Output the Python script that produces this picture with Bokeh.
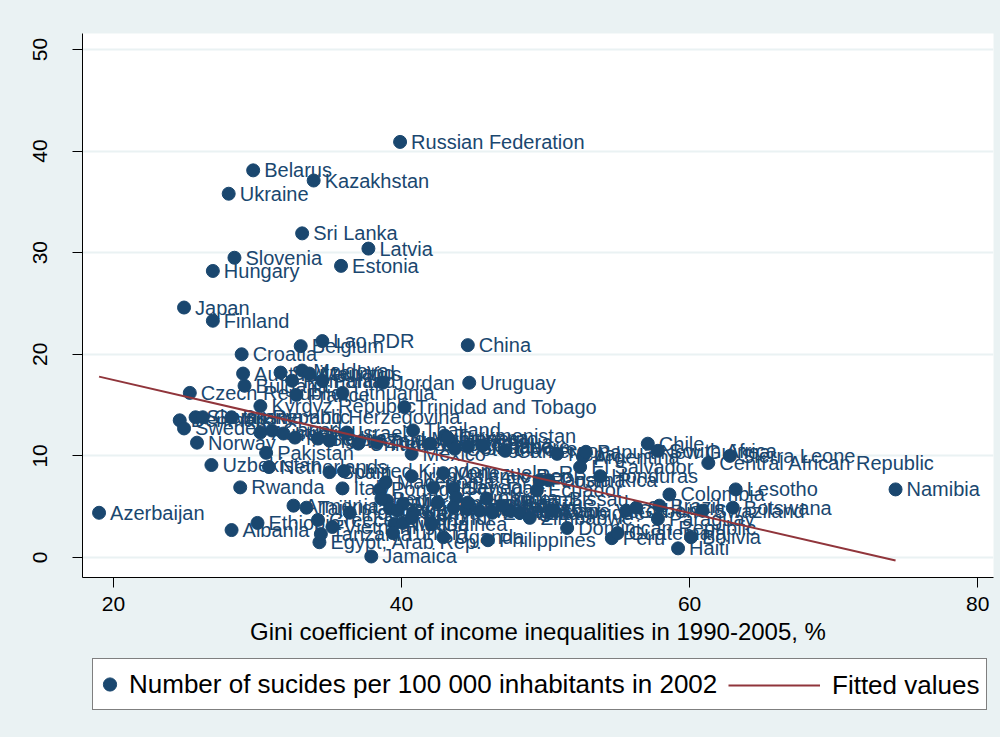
from bokeh.plotting import figure
from bokeh.layouts import column
from bokeh.models import ColumnDataSource, Range1d, Legend, LegendItem, FixedTicker
from bokeh.core.properties import value
from bokeh.embed import file_html
from bokeh.resources import INLINE

countries = [
    "Russian Federation", "Belarus", "Kazakhstan", "Ukraine", "Sri Lanka", "Latvia",
    "Slovenia", "Estonia", "Hungary", "Japan", "Finland", "Lao PDR", "Belgium", "China",
    "Croatia", "Austria", "Switzerland", "Moldova", "Mauritius", "Romania", "Poland",
    "Jordan", "Uruguay", "Bulgaria", "Czech Republic", "Lithuania", "France",
    "Kyrgyz Republic", "Trinidad and Tobago", "Denmark", "Sweden", "Slovak Republic",
    "Germany", "Bosnia and Herzegovina", "Norway", "Uzbekistan", "Pakistan", "Netherlands",
    "Rwanda", "Azerbaijan", "Ethiopia", "Albania", "Tajikistan", "Armenia",
    "Egypt, Arab Rep.", "Jamaica", "Tanzania", "Philippines", "Dominican Republic", "Peru",
    "Guatemala", "Bolivia", "Haiti", "Paraguay", "Colombia", "Lesotho", "Botswana",
    "Swaziland", "Brazil", "Chile", "South Africa", "Sierra Leone",
    "Central African Republic", "Namibia", "Argentina", "Papua New Guinea", "El Salvador",
    "Honduras", "Costa Rica", "Turkmenistan", "Nicaragua", "Cote d'Ivoire", "Singapore",
    "Nepal", "Cameroon", "Australia", "Canada", "Ireland", "Mongolia",
    "Serbia and Montenegro", "New Zealand", "Israel", "United States", "Turkey", "Thailand",
    "Mexico", "Georgia", "Guyana", "Ghana", "Spain", "United Kingdom", "Iran, Islamic Rep.",
    "Italy", "Portugal", "Macedonia, FYR", "Greece", "Vietnam", "Indonesia", "India",
    "Bangladesh", "Morocco", "Kenya", "Nigeria", "Mali", "Guinea", "Tunisia",
    "Venezuela, RB", "Malaysia", "Senegal", "Cambodia", "Yemen, Rep.", "Burkina Faso",
    "Mauritania", "Madagascar", "Zambia", "Niger", "Mozambique", "Uganda", "Benin", "Togo",
    "Burundi", "Gambia, The", "Guinea-Bissau", "Malawi", "Zimbabwe", "Ecuador", "Panama",
    "Cape Verde", "Gabon", "St. Lucia",
]

gini = [
    39.9, 29.7, 33.9, 28.0, 33.1, 37.7,
    28.4, 35.8, 26.9, 24.9, 26.9, 34.5, 33.0, 44.6,
    28.9, 29.0, 31.6, 33.1, 33.6, 32.4, 34.5,
    38.7, 44.7, 29.1, 25.3, 35.9, 32.7,
    30.2, 40.2, 24.6, 24.9, 25.7,
    26.2, 28.2, 25.8, 26.8, 30.6, 30.8,
    28.8, 19.0, 30.0, 28.2, 33.4, 32.5,
    34.3, 37.9, 34.4, 46.0, 51.5, 54.6,
    55.0, 60.1, 59.2, 57.8, 58.6, 63.2, 63.0,
    60.9, 57.9, 57.1, 57.8, 62.8,
    61.3, 74.3, 52.6, 52.8, 52.4,
    53.8, 50.2, 43.0, 43.4, 43.7, 44.6,
    50.8, 47.2, 30.2, 31.0, 31.8, 32.6,
    34.2, 35.0, 36.2, 37.0, 38.3, 40.8,
    40.7, 42.0, 43.2, 45.6, 35.0, 36.0, 40.7,
    35.9, 38.5, 38.9, 34.2, 35.2, 36.4, 39.0,
    39.2, 40.1, 40.8, 39.5, 40.1, 42.1, 39.4,
    42.9, 42.2, 43.6, 43.8, 42.5, 43.6,
    44.5, 45.4, 46.3, 47.5, 48.2, 42.9, 38.6, 39.7,
    40.7, 44.6, 45.9, 47.0, 48.9, 49.4, 49.6,
    50.4, 55.6, 56.3,
]

suicides = [
    40.9, 38.1, 37.1, 35.8, 31.9, 30.4,
    29.5, 28.7, 28.2, 24.6, 23.3, 21.3, 20.8, 20.9,
    20.0, 18.1, 18.2, 18.4, 18.1, 17.4, 17.4,
    17.2, 17.2, 16.9, 16.2, 16.2, 16.0,
    14.9, 14.8, 13.5, 12.7, 13.8,
    13.8, 13.8, 11.3, 9.1, 10.3, 8.9,
    6.9, 4.4, 3.4, 2.7, 4.9, 5.1,
    1.5, 0.1, 2.3, 1.7, 2.9, 1.9,
    2.4, 2.0, 0.9, 3.8, 6.2, 6.7, 4.9,
    4.6, 5.1, 11.2, 10.5, 10.0,
    9.3, 6.7, 9.9, 10.4, 8.9,
    8.0, 7.6, 12.0, 11.4, 10.7, 10.9,
    10.2, 10.5, 12.3, 12.5, 12.2, 11.8,
    11.7, 11.5, 12.3, 11.2, 11.3, 12.5,
    10.2, 11.2, 11.8, 11.0, 8.4, 8.5, 8.0,
    6.8, 6.7, 7.4, 3.7, 3.0, 4.4, 5.6,
    4.8, 5.3, 4.4, 3.3, 3.4, 3.3, 2.4,
    8.3, 6.9, 6.8, 5.9, 5.4, 4.9,
    4.8, 4.6, 4.4, 4.6, 4.4, 2.0, 5.8, 4.6,
    3.9, 5.4, 5.8, 5.1, 3.9, 6.6, 7.6,
    4.6, 4.6, 4.9,
]

fit_x = [19.0, 74.3]
fit_y = [17.8, -0.3]

x_ticks = [20, 40, 60, 80]
y_ticks = [0, 10, 20, 30, 40, 50]

series_label = "Number of sucides per 100 000 inhabitants in 2002"
fit_label = "Fitted values"

NAVY = "#1A476F"
MAROON = "#90353B"
BG = "#EAF2F3"
FONT = "Liberation Sans"

# ---- main plot ----
p = figure(width=None, height=None, frame_width=911, frame_height=544,
           output_backend="svg", toolbar_location=None,
           x_range=Range1d(17.85, 81.1), y_range=Range1d(-1.97, 51.57),
           min_border_left=74, min_border_right=7, min_border_top=25,
           min_border_bottom=78)
p.margin = (8, 0, 0, 8)
p.background_fill_color = "white"
p.border_fill_color = BG
p.outline_line_color = None

src = ColumnDataSource(dict(x=gini, y=suicides, name=countries))
pts = p.scatter("x", "y", source=src, size=13, fill_color=NAVY, line_color=NAVY)
p.text("x", "y", text="name", source=src, x_offset=11, text_baseline="middle",
       text_align="left", text_font=value(FONT), text_font_size="20px", text_color=NAVY)
fit = p.line(fit_x, fit_y, line_color=MAROON, line_width=2)

p.xaxis.ticker = FixedTicker(ticks=x_ticks)
p.yaxis.ticker = FixedTicker(ticks=y_ticks)
p.xaxis.axis_label = "Gini coefficient of income inequalities in 1990-2005, %"
for ax in (p.xaxis, p.yaxis):
    ax.axis_line_color = "black"
    ax.axis_line_width = 1
    ax.major_tick_line_color = "black"
    ax.major_tick_out = 10
    ax.major_tick_in = 0
    ax.minor_tick_out = 0
    ax.minor_tick_in = 0
    ax.major_label_text_font = FONT
    ax.major_label_text_font_size = "21px"
    ax.major_label_text_color = "black"
    ax.axis_label_text_font = FONT
    ax.axis_label_text_font_size = "24px"
    ax.axis_label_text_font_style = "normal"
    ax.axis_label_text_color = "black"
p.yaxis.major_label_orientation = "vertical"
p.yaxis.major_label_standoff = 25
p.xaxis.major_label_standoff = 9
p.xaxis.axis_label_standoff = 4

p.xgrid.visible = False
p.ygrid.grid_line_color = BG
p.ygrid.grid_line_width = 2

# ---- legend strip (same series, hidden renderers) ----
q = figure(width=992, height=82, output_backend="svg", toolbar_location=None,
           x_axis_type=None, y_axis_type=None,
           x_range=Range1d(17.85, 81.1), y_range=Range1d(-1.97, 51.57),
           min_border_left=0, min_border_right=0, min_border_top=0, min_border_bottom=0)
q.margin = (0, 0, 0, 8)
q.background_fill_color = BG
q.border_fill_color = BG
q.outline_line_color = None
q_pts = q.scatter("x", "y", source=src, size=13, fill_color=NAVY, line_color=NAVY,
                  visible=False)
q_fit = q.line(fit_x, fit_y, line_color=MAROON, line_width=2, visible=False)

leg1 = Legend(items=[LegendItem(label=series_label, renderers=[q_pts])],
              location=(10, 27), orientation="horizontal",
              glyph_width=33, glyph_height=50, label_height=50, label_width=857,
              padding=0, label_standoff=3, margin=0, spacing=0,
              border_line_color="black", border_line_width=1,
              background_fill_color="white", background_fill_alpha=1.0,
              inactive_fill_alpha=0.0,
              label_text_font=FONT, label_text_font_size="26px", label_text_color="black")
leg2 = Legend(items=[LegendItem(label=fit_label, renderers=[q_fit])],
              location=(646, 27), orientation="horizontal",
              glyph_width=92, glyph_height=50, label_height=50,
              padding=0, label_standoff=12, margin=0, spacing=0,
              border_line_color=None, background_fill_alpha=0.0,
              inactive_fill_alpha=0.0,
              label_text_font=FONT, label_text_font_size="26px", label_text_color="black")
q.add_layout(leg1)
q.add_layout(leg2)

layout = column(p, q, spacing=0)
layout.background = BG

open("out.html", "w").write(file_html(layout, INLINE))
